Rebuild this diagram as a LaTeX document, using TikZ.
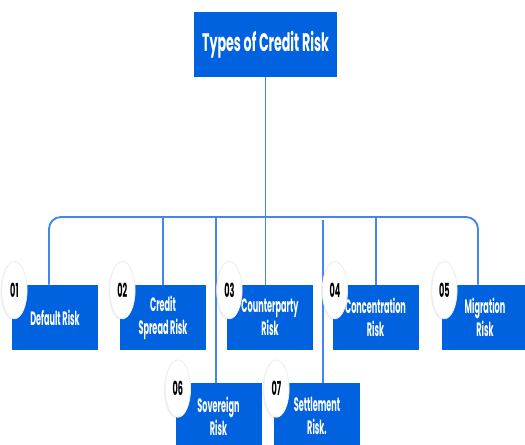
\documentclass[tikz,border=0pt]{standalone}
\usepackage{fontspec}
\setmainfont{Poppins}[FakeStretch=0.42]
\newfontfamily\titlefont{Poppins}[FakeStretch=0.5]
\usetikzlibrary{shapes.geometric,shadows}
\definecolor{riskblue}{RGB}{0,98,222}
\definecolor{linkblue}{RGB}{66,134,238}

\tikzset{
  riskbox/.style={fill=riskblue, text=white, inner sep=0pt, align=center,
    minimum width=64.5pt, minimum height=48.75pt,
    font=\bfseries\fontsize{14.5}{17}\selectfont},
  numbadge/.style={ellipse, fill=white, draw=black!7, line width=0.6pt, inner sep=0pt,
    minimum width=19pt, minimum height=43pt,
    drop shadow={shadow xshift=-0.9pt, shadow yshift=-1pt, opacity=0.12},
    font=\bfseries\fontsize{14.5}{17}\selectfont},
  link/.style={draw=linkblue, line width=1.4pt}
}

\begin{document}
\begin{tikzpicture}[x=0.75pt,y=0.75pt,yscale=-1,xscale=1]
  \useasboundingbox (0,0) rectangle (525,445);
  \clip (0,0) rectangle (525,445);
  % connectors
  \coordinate (busL) at (49,217);
  \coordinate (busR) at (478,217);
  \coordinate (drop2) at (163,217);
  \coordinate (drop4) at (376,217);
  \coordinate (drop6) at (216,217);
  \coordinate (drop7) at (323,220);
  % title
  \node [riskbox, minimum width=107.25pt, font=\titlefont\bfseries\fontsize{19}{22}\selectfont] (title) at (265.5,44.5) {Types of Credit Risk};
  % first row
  \node [riskbox] (dflt) at (55,317.5) {Default Risk};
  \node [riskbox] (spread) at (163,317.5) {Credit\\Spread Risk};
  \node [riskbox] (cpty) at (270,317.5) {Counterparty\\Risk};
  \node [riskbox] (conc) at (375.5,317.5) {Concentration\\Risk};
  \node [riskbox] (migr) at (485,317.5) {Migration\\Risk};
  % second row
  \node [riskbox] (sov) at (218.5,416) {Sovereign\\Risk};
  \node [riskbox] (settle) at (317,416) {Settlement\\Risk.};
  \draw [link] (title.south) -- (title.south |- cpty.north);
  \draw [link, rounded corners=9] (busL |- dflt.north) -- (busL) -- (busR) -- (busR |- migr.north);
  \draw [link] (drop2) -- (drop2 |- spread.north);
  \draw [link] (drop4) -- (drop4 |- conc.north);
  \draw [link] (drop6) -- (drop6 |- sov.north);
  \draw [link] (drop7) -- (drop7 |- settle.north);
  % number badges
  \node [numbadge] (n1) at ([xshift=2pt,yshift=4pt]dflt.north west) {01};
  \node [numbadge] (n2) at ([xshift=2pt,yshift=4pt]spread.north west) {02};
  \node [numbadge] (n3) at ([xshift=2pt,yshift=4pt]cpty.north west) {03};
  \node [numbadge] (n4) at ([xshift=2pt,yshift=4pt]conc.north west) {04};
  \node [numbadge] (n5) at ([xshift=2pt,yshift=4pt]migr.north west) {05};
  \node [numbadge] (n6) at ([xshift=2pt,yshift=4pt]sov.north west) {06};
  \node [numbadge] (n7) at ([xshift=2pt,yshift=4pt]settle.north west) {07};
\end{tikzpicture}
\end{document}
